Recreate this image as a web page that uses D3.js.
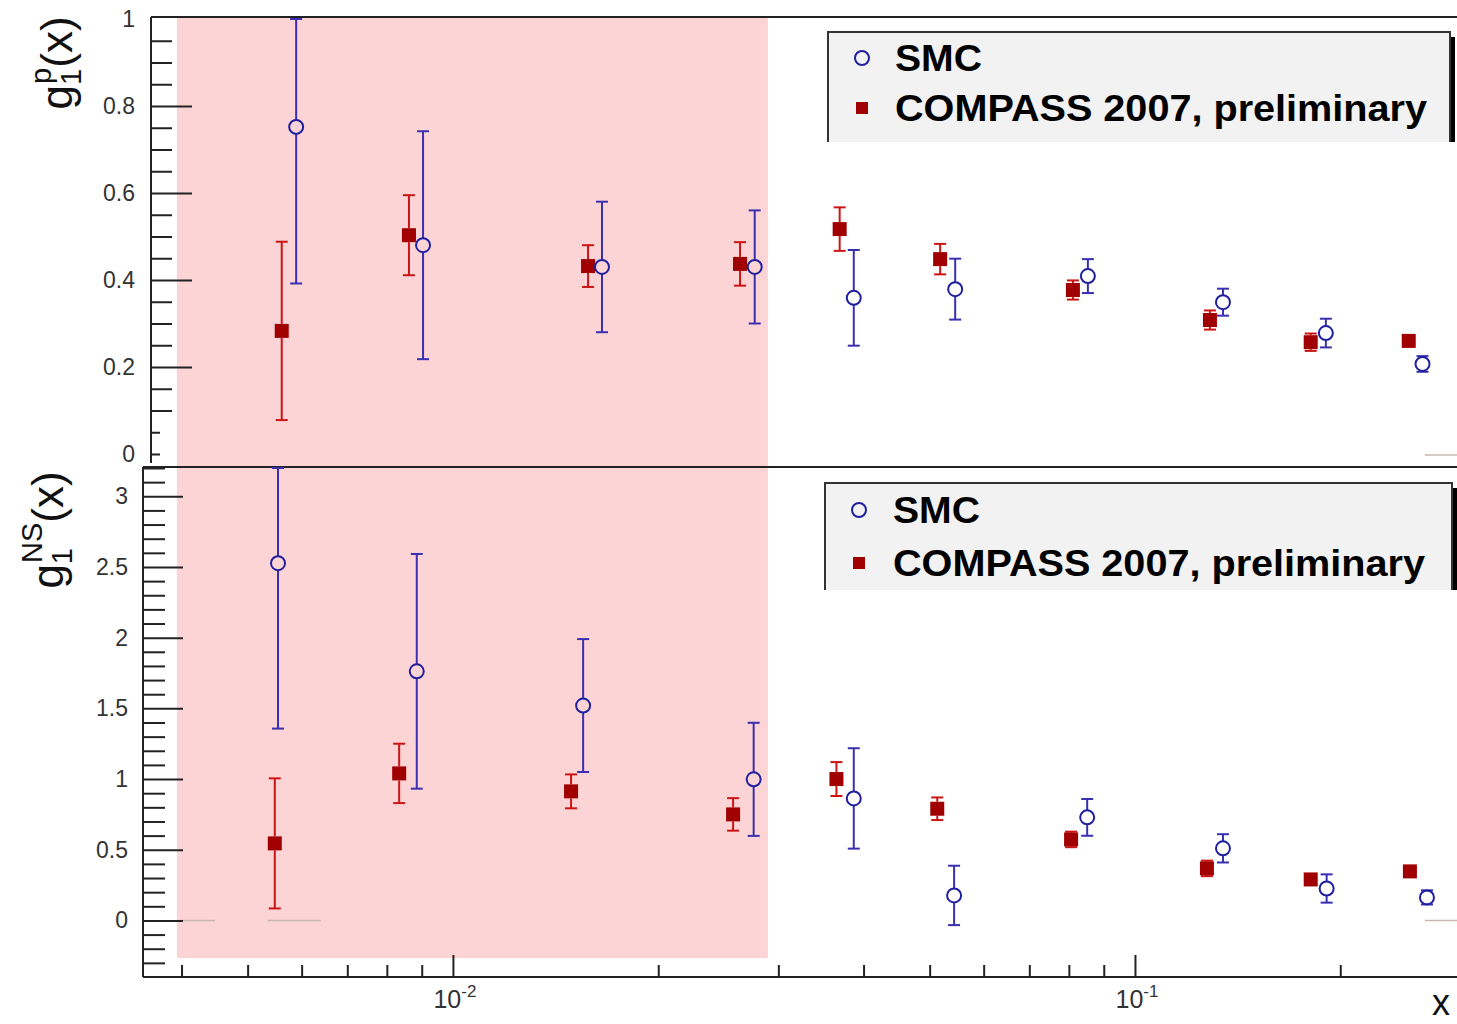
<!DOCTYPE html>
<html><head><meta charset="utf-8">
<script src="https://cdn.jsdelivr.net/npm/d3@7"></script>
<style>body{margin:0;background:#fff;} svg{display:block;font-family:"Liberation Sans",Arial,sans-serif;}</style>
</head><body>
<script>
// ---- data ----
const seriesNames = ["SMC", "COMPASS 2007, preliminary"];
// top panel g1^p
const topCompassX   = [0.00561,0.00862,0.01578,0.02636,0.0369,0.0518,0.0811,0.1288,0.181,0.252];
const topCompassY   = [0.283,0.503,0.432,0.437,0.517,0.448,0.377,0.308,0.257,0.26];
const topCompassErr = [0.205,0.092,0.048,0.05,0.05,0.035,0.022,0.022,0.02,0.01];
const topSmcX   = [0.00589,0.00904,0.01654,0.0277,0.0387,0.0545,0.0853,0.1346,0.1905,0.264];
const topSmcY   = [0.752,0.48,0.43,0.43,0.359,0.379,0.409,0.349,0.278,0.207];
const topSmcErr = [0.36,0.262,0.15,0.13,0.11,0.07,0.039,0.031,0.033,0.018];
// bottom panel g1^NS
const botCompassX   = [0.00548,0.00834,0.0149,0.02575,0.0365,0.0513,0.0806,0.1275,0.181,0.253];
const botCompassY   = [0.545,1.04,0.913,0.75,1.0,0.79,0.573,0.368,0.29,0.347];
const botCompassErr = [0.46,0.21,0.12,0.115,0.12,0.08,0.055,0.055,0.03,0.02];
const botSmcX   = [0.00554,0.00885,0.01552,0.0276,0.0387,0.0543,0.0851,0.1346,0.191,0.268];
const botSmcY   = [2.527,1.762,1.52,0.998,0.863,0.177,0.729,0.51,0.226,0.163];
const botSmcErr = [1.17,0.83,0.47,0.40,0.355,0.21,0.13,0.10,0.10,0.05];
// axis ticks
const topMajorTicks = [0,0.2,0.4,0.6,0.8,1];
const topTickLabels = ["0","0.2","0.4","0.6","0.8","1"];
const botMajorTicks = [0,0.5,1,1.5,2,2.5,3];
const botTickLabels = ["0","0.5","1","1.5","2","2.5","3"];
const xMajorTicks = [0.01,0.1];
const xTickExponents = ["-2","-1"];
const xMinorTicks = [0.004,0.005,0.006,0.007,0.008,0.009,0.02,0.03,0.04,0.05,0.06,0.07,0.08,0.09,0.2];
const shadedRange = [0.003938, 0.02896];

// ---- drawing ----
const W = 1457, H = 1024;
const svg = d3.select("body").append("svg").attr("width", W).attr("height", H);

const x = d3.scaleLog().domain([0.003512, 0.2966]).range([143, 1457]);
const yTop = d3.scaleLinear().domain([0, 1]).range([454, 19]);
const yBot = d3.scaleLinear().domain([-0.4, 3.2]).range([977, 468]);

const defs = svg.append("defs");
defs.append("clipPath").attr("id","clipTop").append("rect").attr("x",143).attr("y",16).attr("width",W-143).attr("height",451);
defs.append("clipPath").attr("id","clipBot").append("rect").attr("x",143).attr("y",466).attr("width",W-143).attr("height",511);

// shaded band
svg.append("rect").attr("x", x(shadedRange[0])).attr("y", 17)
  .attr("width", x(shadedRange[1]) - x(shadedRange[0])).attr("height", 958 - 17)
  .attr("fill", "#fdd4d5");

// faint zero-line segments
const zc = "#c8b8b0";
[[0.00398,0.00448],[0.00535,0.0064],[0.266,0.2966]].forEach(s=>{
  svg.append("line").attr("x1",x(s[0])).attr("x2",x(s[1])).attr("y1",yBot(0)).attr("y2",yBot(0)).attr("stroke",zc).attr("stroke-width",1.5);
});
svg.append("line").attr("x1",x(0.266)).attr("x2",x(0.2966)).attr("y1",yTop(0)+1).attr("y2",yTop(0)+1).attr("stroke",zc).attr("stroke-width",1.5);

// ---- axes ----
const axisCol = "#222";
function styleAxis(g){ g.select(".domain").remove(); g.selectAll("line").attr("stroke",axisCol).attr("stroke-width",2); }
const labelStyle = g=>{g.select(".domain").remove(); g.selectAll("text").attr("font-size",23).attr("fill","#333").attr("font-family","Liberation Sans, Arial");};

// top y axis
const topMinor = d3.range(0.1, 1.0001, 0.05).filter(v=>!topMajorTicks.some(m=>Math.abs(m-v)<1e-6));
svg.append("g").attr("transform","translate(151,0)")
  .call(d3.axisRight(yTop).tickValues(topMinor).tickSize(21).tickFormat("")).call(styleAxis);
svg.append("g").attr("transform","translate(151,0)")
  .call(d3.axisRight(yTop).tickValues([0.2,0.4,0.6,0.8]).tickSize(41).tickFormat("")).call(styleAxis);
svg.append("g").attr("transform","translate(151,0)")
  .call(d3.axisRight(yTop).tickValues([0,0.05]).tickSize(9).tickFormat("")).call(styleAxis);
svg.append("g").attr("transform","translate(151,0)")
  .call(d3.axisLeft(yTop).tickValues(topMajorTicks).tickSize(0).tickPadding(16)
    .tickFormat((d,i)=>topTickLabels[i])).call(labelStyle);
svg.append("line").attr("x1",151).attr("x2",151).attr("y1",17).attr("y2",463).attr("stroke",axisCol).attr("stroke-width",2);
svg.append("line").attr("x1",151).attr("x2",W).attr("y1",17).attr("y2",17).attr("stroke",axisCol).attr("stroke-width",2);

// bottom y axis
const botMinor = d3.range(-3, 33).map(v=>v/10).filter(v=>Math.abs(v*2-Math.round(v*2))>1e-6);
svg.append("g").attr("transform","translate(143,0)")
  .call(d3.axisRight(yBot).tickValues(botMinor).tickSize(22).tickFormat("")).call(styleAxis);
svg.append("g").attr("transform","translate(143,0)")
  .call(d3.axisRight(yBot).tickValues(botMajorTicks).tickSize(40).tickFormat("")).call(styleAxis);
svg.append("g").attr("transform","translate(143,0)")
  .call(d3.axisLeft(yBot).tickValues(botMajorTicks).tickSize(0).tickPadding(15)
    .tickFormat((d,i)=>botTickLabels[i])).call(labelStyle);
svg.append("line").attr("x1",143).attr("x2",143).attr("y1",467).attr("y2",977).attr("stroke",axisCol).attr("stroke-width",2);
svg.append("line").attr("x1",143).attr("x2",W).attr("y1",467).attr("y2",467).attr("stroke",axisCol).attr("stroke-width",2);

// x axis
svg.append("g").attr("transform","translate(0,977)")
  .call(d3.axisTop(x).tickValues(xMinorTicks).tickSize(12).tickFormat("")).call(styleAxis);
svg.append("g").attr("transform","translate(0,977)")
  .call(d3.axisTop(x).tickValues(xMajorTicks).tickSize(22).tickFormat("")).call(styleAxis);
svg.append("line").attr("x1",143).attr("x2",W).attr("y1",977).attr("y2",977).attr("stroke",axisCol).attr("stroke-width",2);
xMajorTicks.forEach((v,i)=>{
  const t = svg.append("text").attr("x", x(v)+2).attr("y", 1008).attr("text-anchor","middle")
    .attr("fill","#333").attr("font-size",25);
  t.append("tspan").text("10");
  t.append("tspan").attr("dy",-11).attr("font-size",17).text(xTickExponents[i]);
});
svg.append("text").attr("x",1441).attr("y",1015).attr("text-anchor","middle").attr("font-size",36).attr("fill","#111").text("x");

// y titles
function yTitle(cx, cy, sup){
  const t = svg.append("text").attr("transform",`translate(${cx},${cy}) rotate(-90)`)
    .attr("text-anchor","middle").attr("font-size",44).attr("fill","#111");
  t.append("tspan").text("g");
  t.append("tspan").attr("font-size",29).attr("dy",9).text("1");
  t.append("tspan").attr("font-size",29).attr("dx",-15).attr("dy",-30).text(sup);
  t.append("tspan").attr("dy",21).text("(x)");
}
yTitle(72, 63, "p");
yTitle(63, 530, "NS");

// ---- data marks ----
const blue = "#1f1fa0", blueBar = "#3a2fb0", red = "#a00000", redBar = "#cc1414";
function drawSeries(gParent, xs, ys, es, yS, kind){
  const [lo, hi] = yS.domain();
  const data = xs.map((v,i)=>({x:v, y:ys[i], e:es[i]}));
  const g = gParent.append("g");
  const col = kind==="smc" ? blueBar : redBar;
  const r = 7;
  data.forEach(d=>{
    const px = x(d.x);
    const y1 = yS(Math.min(hi, d.y + d.e)), y2 = yS(Math.max(lo, d.y - d.e));
    const yc = yS(d.y);
    if (yc - y1 > r) g.append("line").attr("x1",px).attr("x2",px).attr("y1",y1).attr("y2",yc - r).attr("stroke",col).attr("stroke-width",2);
    if (y2 - yc > r) g.append("line").attr("x1",px).attr("x2",px).attr("y1",yc + r).attr("y2",y2).attr("stroke",col).attr("stroke-width",2);
    [y1,y2].forEach(yy=>{
      if (Math.abs(yy - yc) >= r - 1)
        g.append("line").attr("x1",px-6).attr("x2",px+6).attr("y1",yy).attr("y2",yy).attr("stroke",col).attr("stroke-width",2);
    });
  });
  if (kind==="smc"){
    g.selectAll("circle.m").data(data).join("circle").attr("class","m")
      .attr("cx",d=>x(d.x)).attr("cy",d=>yS(d.y)).attr("r",7)
      .attr("fill","none").attr("stroke",blue).attr("stroke-width",2);
  } else {
    g.selectAll("rect.m").data(data).join("rect").attr("class","m")
      .attr("x",d=>x(d.x)-7).attr("y",d=>yS(d.y)-7).attr("width",14).attr("height",14)
      .attr("fill",red);
  }
}
const gTop = svg.append("g").attr("clip-path","url(#clipTop)");
drawSeries(gTop, topCompassX, topCompassY, topCompassErr, yTop, "compass");
drawSeries(gTop, topSmcX, topSmcY, topSmcErr, yTop, "smc");
const gBot = svg.append("g").attr("clip-path","url(#clipBot)");
drawSeries(gBot, botCompassX, botCompassY, botCompassErr, yBot, "compass");
drawSeries(gBot, botSmcX, botSmcY, botSmcErr, yBot, "smc");

// ---- legends ----
function legend(x0, y0, x1, y1, mx, tx, yA, yB){
  svg.append("rect").attr("x",x1).attr("y",y0+5).attr("width",5).attr("height",y1-y0-5).attr("fill","#000");
  svg.append("rect").attr("x",x0).attr("y",y0).attr("width",x1-x0).attr("height",y1-y0).attr("fill","#f2f2f2");
  svg.append("path").attr("d",`M${x0},${y1}V${y0}H${x1}V${y1}`).attr("fill","none").attr("stroke","#333").attr("stroke-width",2);
  svg.append("circle").attr("cx",mx).attr("cy",yA-13).attr("r",7).attr("fill","none").attr("stroke",blue).attr("stroke-width",2);
  svg.append("rect").attr("x",mx-6).attr("y",yB-19).attr("width",12).attr("height",12).attr("fill",red);
  svg.append("text").attr("x",tx).attr("y",yA).attr("font-size",36).attr("font-weight","bold").attr("fill","#000")
    .attr("textLength",87).attr("lengthAdjust","spacingAndGlyphs").text(seriesNames[0]);
  svg.append("text").attr("x",tx).attr("y",yB).attr("font-size",36).attr("font-weight","bold").attr("fill","#000")
    .attr("textLength",532).attr("lengthAdjust","spacingAndGlyphs").text(seriesNames[1]);
}
legend(828, 32, 1450, 142, 862, 895, 71, 121);
legend(825, 483, 1452, 590, 859, 893, 523, 576);
</script>
</body></html>
